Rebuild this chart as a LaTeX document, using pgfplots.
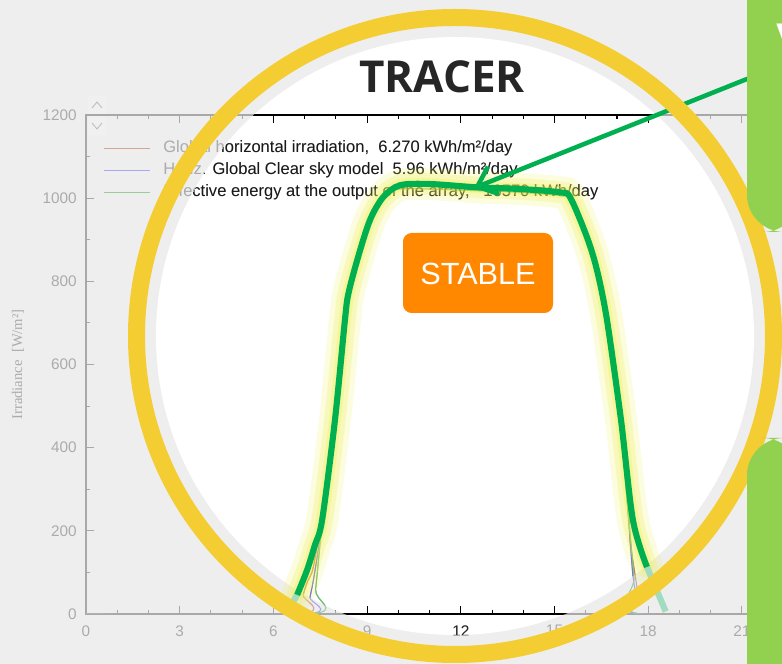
\documentclass[border=0pt]{standalone}
\usepackage{pgfplots}
\pgfplotsset{compat=1.18}
\usepackage{pgfplotstable}
\usepackage{fontspec}
\setmainfont{Liberation Sans}
\newfontfamily\seriffont{Liberation Serif}
\newfontfamily\osfont{Open Sans}
\usetikzlibrary{arrows.meta}

\definecolor{bggray}{HTML}{EEEEEE}
\definecolor{axgray}{HTML}{A8A8A8}
\definecolor{lblgray}{HTML}{ABABAB}
\definecolor{ringyellow}{HTML}{F3CD32}
\definecolor{tracegreen}{HTML}{00B050}
\definecolor{tealpale}{HTML}{A2DCC0}
\definecolor{glow}{HTML}{F0F050}
\definecolor{panelgreen}{HTML}{92D050}
\definecolor{stableorange}{HTML}{FF8800}
\definecolor{ghi}{HTML}{B86A50}
\definecolor{clr}{HTML}{6060E8}
\definecolor{eff}{HTML}{70B870}
\definecolor{titlegray}{HTML}{262626}

% Global horizontal irradiation [W/m2]
\pgfplotstableread{
x y
0 0
6.85 0
6.95 45
7.10 80
7.27 110
7.50 215
7.97 470
8.29 707
8.40 770
8.71 858
9.09 947
9.51 1002
10.05 1031
11.0 1032
12.5 1025
13.9 1020
15.18 1012
15.50 1000
16.04 904
16.36 825
16.68 705
17.10 466
17.35 300
17.42 178
17.58 94
17.72 30
17.85 0
24 0
}\ghidata

% Horiz. Global Clear sky model [W/m2]
\pgfplotstableread{
x y
0 0
7.05 0
7.17 40
7.30 90
7.50 190
7.97 460
8.29 700
8.71 855
9.09 945
9.51 1000
10.05 1028
12.5 1024
13.9 1020
15.18 1012
15.50 998
16.04 902
16.36 822
16.68 702
17.10 462
17.30 300
17.51 94
17.67 34
17.80 0
24 0
}\clrdata

% Effective energy at the output of the array
\pgfplotstableread{
x y
0 0
7.20 0
7.35 60
7.56 215
7.97 462
8.29 700
8.71 852
9.09 940
9.51 995
10.05 1022
12.5 1018
13.9 1014
15.18 1006
15.50 994
16.04 900
16.36 820
16.68 700
17.10 460
17.35 250
17.55 90
17.70 0
24 0
}\effdata

% hand-drawn tracer line
\pgfplotstableread{
x y
6.76 46
7.08 106
7.33 166
7.56 226
7.97 466
8.29 707
8.40 770
8.71 858
9.09 947
9.51 1002
10.05 1031
11.01 1034
12.52 1026
13.90 1022
15.18 1014
15.50 1002
16.04 906
16.36 827
16.68 707
17.13 466
17.51 226
17.96 113
}\tracedata
\pgfplotstableread{
x y
6.40 0
6.76 46
}\tealleft
\pgfplotstableread{
x y
17.96 113
18.56 6
}\tealright

\pgfplotsset{
  basechart/.style={
    scale only axis, width=562.2pt, height=374.25pt,
    at={(64.5pt,37.5pt)}, anchor=south west,
    xmin=0, xmax=24, ymin=0, ymax=1200,
    xtick={0,3,...,24}, minor x tick num=2,
    ytick={0,200,...,1200}, minor y tick num=1,
    tick align=inside, major tick length=6pt, minor tick length=3pt,
    /pgf/number format/assume math mode=true,
    /pgf/number format/1000 sep={},
    tick label style={font=\fontsize{11.5}{13}\selectfont},
    xticklabel style={yshift=-5pt},
    yticklabel style={xshift=-3.5pt},
    legend style={at={(axis description cs:0,1)}, anchor=north west,
      xshift=10pt, yshift=-16pt, draw=none, fill=none,
      font=\fontsize{12.4}{14}\selectfont,
      nodes={text height=9pt, text depth=3pt, inner sep=1pt},
      row sep=2.5pt, column sep=8.5pt},
    legend cell align=left,
    legend image code/.code={\draw[##1, line width=0.8pt] (0pt,0pt) -- (34.5pt,0pt);},
  }
}

\begin{document}
\begin{tikzpicture}
\useasboundingbox (0,0) rectangle (586.5pt,498pt);
\clip (0,0) rectangle (586.5pt,498pt);
\fill[bggray] (0,0) rectangle (586.5pt,498pt);
\fill[white] (341.25pt,246pt) circle [radius=224.25pt];

% faded chart outside the lens
\begin{axis}[basechart,
  axis line style={axgray, line width=1.3pt},
  every tick/.append style={axgray, line width=0.8pt},
  tick label style={text=lblgray},
  legend style={text=lblgray},
  ylabel={Irradiance~~[W/m²]},
  ylabel style={font=\seriffont\fontsize{11}{13}\selectfont, text=lblgray,
    at={(axis description cs:-0.0907,0.50)}, anchor=center}]
\addplot[ghi!60!white, line width=0.8pt, smooth] table {\ghidata};
\addlegendentry{Global horizontal irradiation,~ 6.270 kWh/m²/day}
\addplot[clr!55!white, line width=0.8pt, smooth] table {\clrdata};
\addlegendentry{Horiz. Global Clear sky model~ 5.96 kWh/m²/day}
\addplot[eff!70!white, line width=0.8pt, smooth] table {\effdata};
\addlegendentry{Effective energy at the output of the array,~~ 16570 kWh/day}
\end{axis}

% sharp chart inside the lens
\begin{scope}
\clip (341.25pt,246pt) circle [radius=224.25pt];
\begin{axis}[basechart,
  axis line style={black, line width=1.3pt},
  every tick/.append style={black, line width=0.8pt},
  tick label style={text=black!85},
  legend style={text=black!90}]
\addplot[ghi, line width=0.8pt, smooth] table {\ghidata};
\addlegendentry{Global horizontal irradiation,~ 6.270 kWh/m²/day}
\addplot[clr, line width=0.8pt, smooth] table {\clrdata};
\addlegendentry{Horiz. Global Clear sky model~ 5.96 kWh/m²/day}
\addplot[eff, line width=0.8pt, smooth] table {\effdata};
\addlegendentry{Effective energy at the output of the array,~~ 16570 kWh/day}
\end{axis}
\end{scope}

% tracer highlight
\begin{axis}[basechart, hide axis, clip=false]
\addplot[glow, opacity=0.18, line width=24pt, smooth, line cap=round] table {\tracedata};
\addplot[glow, opacity=0.25, line width=16pt, smooth, line cap=round] table {\tracedata};
\addplot[glow, opacity=0.30, line width=9pt, smooth, line cap=round] table {\tracedata};
\addplot[tealpale, line width=4.6pt] table {\tealleft};
\addplot[tealpale, line width=4.6pt] table {\tealright};
\addplot[tracegreen, line width=4.6pt, smooth, line join=round] table {\tracedata};
\end{axis}

\begin{scope}[x=0.75pt, y=-0.75pt, yshift=498pt]
% scroll buttons
\fill[black!6] (88,96) rectangle (106,114);
\draw[black!25, line width=0.7pt] (92,108) -- (97,102) -- (102,108);
\fill[black!6] (88,117) rectangle (106,135);
\draw[black!25, line width=0.7pt] (92,123) -- (97,129) -- (102,123);
% arrow
\draw[tracegreen, line width=3.4pt, -{Straight Barb[length=13pt, width=22pt]}] (752,77) -- (474,188);
% lens ring
\draw[ringyellow, line width=12.75pt] (455,336) circle [radius=318.5];
% title
\node[titlegray, font=\osfont\bfseries\fontsize{33}{36}\selectfont] at (442,77) {TRACER};
% STABLE label
\fill[stableorange, rounded corners=6.5pt] (403,233) rectangle (553,313);
\node[white, font=\fontsize{23}{26}\selectfont] at (478,274) {STABLE};
% green panels
\fill[panelgreen] (800,-10) -- (747,-10) {[rounded corners=28pt] -- (747,232) -- (800,232)} -- cycle;
\fill[panelgreen] (800,680) -- (747,680) {[rounded corners=28pt] -- (747,438) -- (800,438)} -- cycle;
\node[white, font=\bfseries\fontsize{30}{32}\selectfont, anchor=west] at (772,38) {V};
\end{scope}
\end{tikzpicture}
\end{document}
